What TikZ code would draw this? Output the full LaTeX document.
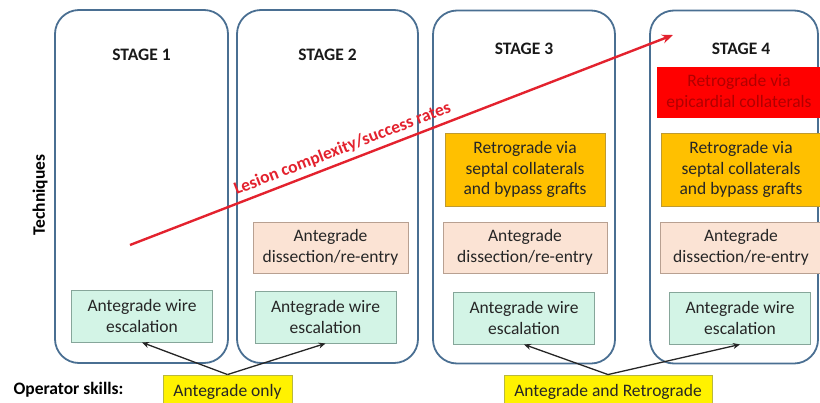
\documentclass[tikz,border=0pt]{standalone}
\usepackage{fontspec}
\setmainfont{Carlito}
\usepackage{xcolor}
\usetikzlibrary{arrows.meta, positioning}
\definecolor{panelblue}{HTML}{4A6F92}
\definecolor{wirefill}{HTML}{D3F4E6}
\definecolor{wireedge}{HTML}{86A69A}
\definecolor{dissectfill}{HTML}{FBE3D4}
\definecolor{dissectedge}{HTML}{B8A091}
\definecolor{retrofill}{HTML}{FFC000}
\definecolor{retroedge}{HTML}{BF9A30}
\definecolor{epitext}{HTML}{B00000}
\definecolor{trendred}{HTML}{E3222E}
\definecolor{skilledge}{HTML}{B8B840}
\newcommand{\boxfont}{\fontsize{17.5}{20.5}\selectfont}
\tikzstyle{stage} = [rectangle, rounded corners=24pt, draw=panelblue, line width=1.8pt, minimum height=353pt]
\tikzstyle{title} = [font=\boxfont\bfseries, text=black!90]
\tikzstyle{wire} = [rectangle, draw=wireedge, fill=wirefill, line width=0.9pt, minimum width=141pt, minimum height=52pt, text centered, align=center, font=\boxfont, text=black!85, inner sep=1pt]
\tikzstyle{dissect} = [rectangle, draw=dissectedge, fill=dissectfill, line width=0.9pt, minimum width=162pt, minimum height=51pt, text centered, align=center, font=\boxfont, text=black!85, inner sep=1pt]
\tikzstyle{retro} = [rectangle, draw=retroedge, fill=retrofill, line width=0.9pt, minimum width=160pt, minimum height=73pt, text centered, align=center, font=\boxfont, text=black!85, inner sep=1pt]
\tikzstyle{epi} = [rectangle, fill=red, minimum width=164pt, minimum height=51pt, text centered, align=center, font=\boxfont, text=epitext, inner sep=1pt]
\tikzstyle{skill} = [rectangle, draw=skilledge, fill=yellow, line width=0.9pt, minimum height=34pt, text centered, font=\boxfont, text=black!85]
\tikzstyle{arrow} = [line width=1.3pt, black!85, -{Stealth[length=7pt, width=6pt]}]
\tikzstyle{trend} = [trendred, line width=2.4pt, -{Stealth[length=11pt, width=9pt]}]

\begin{document}
\begin{tikzpicture}[x=1pt, y=-1pt]
    \useasboundingbox (0,0) rectangle (820,402);
    % stage panels
    \node (p1) [stage, minimum width=173pt] at (141.5,186.5) {};
    \node (p2) [stage, minimum width=181pt] at (327.5,186.5) {};
    \node (p3) [stage, minimum width=182pt] at (524,187) {};
    \node (p4) [stage, minimum width=168pt] at (734,187) {};

    \node (t1) [title] at (141.5,55) {STAGE 1};
    \node (t2) [title] at (327.5,55) {STAGE 2};
    \node (t3) [title] at (524,49) {STAGE 3};
    \node (t4) [title] at (741,49) {STAGE 4};

    \node (tech) [font=\boxfont\bfseries, rotate=90] at (40,195) {Techniques};

    % technique boxes
    \node (awe1) [wire] at (142,316) {Antegrade wire\\escalation};
    \node (awe2) [wire] at (325.5,317) {Antegrade wire\\escalation};
    \node (awe3) [wire] at (524,318) {Antegrade wire\\escalation};
    \node (awe4) [wire] at (740,318) {Antegrade wire\\escalation};

    \node (adr2) [dissect, minimum width=155pt] at (330.5,247.5) {Antegrade\\dissection/re-entry};
    \node (adr3) [dissect, minimum width=164pt] at (525,247.5) {Antegrade\\dissection/re-entry};
    \node (adr4) [dissect] at (741,247.5) {Antegrade\\dissection/re-entry};

    \node (rs3) [retro] at (525,169.5) {Retrograde via\\septal collaterals\\and bypass grafts};
    \node (rs4) [retro] at (741,169.5) {Retrograde via\\septal collaterals\\and bypass grafts};
    \node (re4) [epi] at (739,92.5) {Retrograde via\\epicardial collaterals};

    % operator skills
    \node (ops) [font=\boxfont\bfseries, anchor=west] at (10,390) {Operator skills:};
    \node (ao) [skill, minimum width=129pt] at (227.5,392) {Antegrade only};
    \node (ar) [skill, minimum width=208pt] at (608,392) {Antegrade and Retrograde};

    \draw [arrow] (ao.north) -- (awe1.south);
    \draw [arrow] (ao.north) -- (awe2.south);
    \draw [arrow] (ar.north) -- (awe3.south);
    \draw [arrow] (ar.north) -- (awe4.south);

    % complexity trend
    \coordinate (low) at (130,245);
    \coordinate (high) at (673,35);
    \draw [trend] (low) -- node[pos=0.4, above=1pt, sloped, font=\boxfont\bfseries, text=trendred] {Lesion complexity/success rates} (high);
\end{tikzpicture}
\end{document}
